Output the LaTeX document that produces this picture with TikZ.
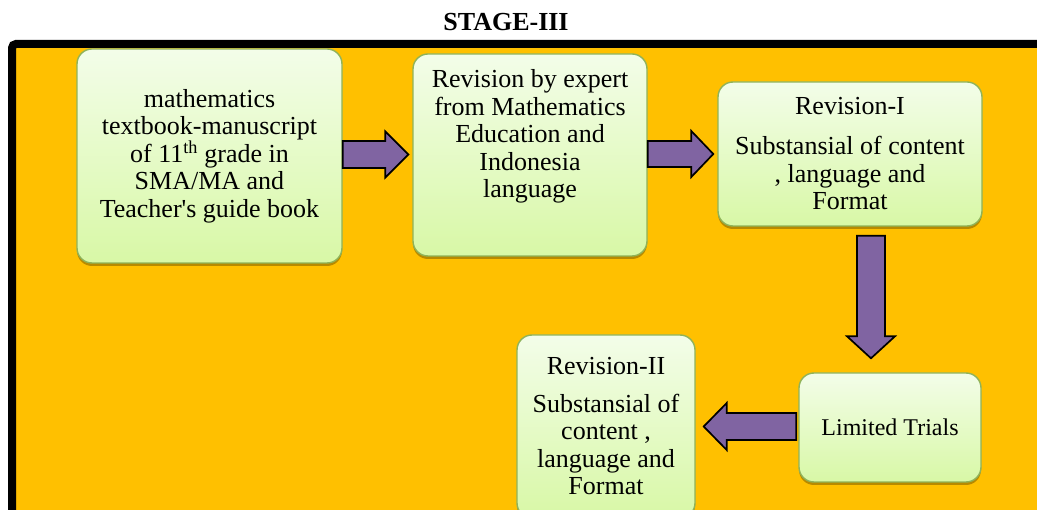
\documentclass[tikz,border=0pt]{standalone}
\usepackage{fontspec}
\setmainfont{Liberation Serif}
\usetikzlibrary{calc,shadows}
\definecolor{bgorange}{RGB}{255,192,0}
\definecolor{boxedge}{RGB}{143,179,90}
\definecolor{boxtop}{RGB}{243,253,233}
\definecolor{boxbot}{RGB}{216,248,166}
\definecolor{arrowfill}{RGB}{128,100,162}
\begin{document}
\begin{tikzpicture}[x=1pt,y=-1pt,
  box/.style={draw=boxedge, line width=1.4pt, rounded corners=15pt,
    top color=boxtop, bottom color=boxbot, inner sep=0pt, align=center,
    font=\fontsize{26}{27.5}\selectfont,
    drop shadow={shadow xshift=0pt, shadow yshift=-3pt, opacity=0.35, fill=black!80!bgorange}},
  barrow/.style={draw=black, line width=1.7pt, fill=arrowfill, line join=miter},
  txt/.style={inner sep=0pt, align=center, font=\fontsize{26}{27.5}\selectfont}]
\useasboundingbox (0,0) rectangle (1037,510);
\clip (0,0) rectangle (1037,510);
\fill[white] (0,0) rectangle (1037,510);
\draw[line width=8pt, fill=bgorange, rounded corners=4pt] (12,44) rectangle (1060,540);
\node[font=\bfseries\fontsize{26}{30}\selectfont, inner sep=0pt] (title) at (506,22) {STAGE-III};

\node[box, minimum width=265pt, minimum height=214pt] (b1) at (209.5,156)
  {mathematics\\textbook-manuscript\\of 11\textsuperscript{th} grade in\\SMA/MA and\\Teacher\textquotesingle s guide book};
\node[box, minimum width=234pt, minimum height=202pt] (b2) at (530,155) {};
\node[txt, anchor=north] (t2) at ($(b2.north)+(0,16)$)
  {Revision by expert\\from Mathematics\\Education and\\Indonesia\\language};
\node[box, minimum width=264pt, minimum height=144pt] (b3) at (850,154)
  {Revision-I\\[12.5pt]Substansial of content\\, language and\\Format};
\node[box, minimum width=182pt, minimum height=109pt, font=\fontsize{24}{27}\selectfont] (b4) at (890,427.5)
  {Limited Trials};
\node[box, minimum width=178pt, minimum height=183pt] (b5) at (606,426.5)
  {Revision-II\\[10pt]Substansial of\\content ,\\language and\\Format};

% arrow 1
\coordinate (a1t) at ($(b2.west)+(-4,-0.5)$);
\coordinate (a1s) at (b1.east |- a1t);
\draw[barrow] ($(a1s)+(0,-13.5)$) -- ($(a1t)+(-23,-13.5)$) -- ($(a1t)+(-23,-23)$) -- (a1t)
  -- ($(a1t)+(-23,23)$) -- ($(a1t)+(-23,13.5)$) -- ($(a1s)+(0,13.5)$) -- cycle;
% arrow 2
\coordinate (a2t) at ($(b3.west)+(-4,0)$);
\coordinate (a2s) at (b2.east |- a2t);
\draw[barrow] ($(a2s)+(0,-13)$) -- ($(a2t)+(-22,-13)$) -- ($(a2t)+(-22,-23)$) -- (a2t)
  -- ($(a2t)+(-22,23)$) -- ($(a2t)+(-22,13)$) -- ($(a2s)+(0,13)$) -- cycle;
% arrow 3
\coordinate (a3s) at ($(b3.south)+(21,9)$);
\coordinate (a3t) at ($(a3s |- b4.north)+(0,-14)$);
\draw[barrow] ($(a3s)+(-14,0)$) -- ($(a3t)+(-14,-22)$) -- ($(a3t)+(-24,-22)$) -- (a3t)
  -- ($(a3t)+(24,-22)$) -- ($(a3t)+(14,-22)$) -- ($(a3s)+(14,0)$) -- cycle;
% arrow 4
\coordinate (a4s) at ($(b4.west)+(-2,-1)$);
\coordinate (a4t) at ($(b5.east |- a4s)+(8,0)$);
\draw[barrow] ($(a4s)+(0,-13.5)$) -- ($(a4t)+(23,-13.5)$) -- ($(a4t)+(23,-23.5)$) -- (a4t)
  -- ($(a4t)+(23,23.5)$) -- ($(a4t)+(23,13.5)$) -- ($(a4s)+(0,13.5)$) -- cycle;
\end{tikzpicture}
\end{document}
